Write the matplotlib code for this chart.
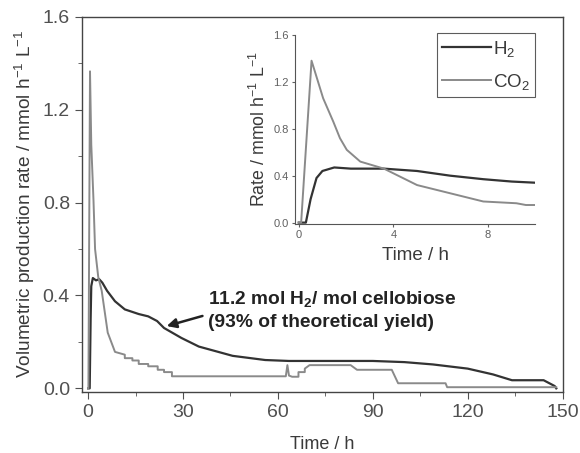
import matplotlib
matplotlib.use('Agg')
import matplotlib.pyplot as plt
from matplotlib.ticker import MultipleLocator, FormatStrFormatter

plt.rcParams['font.family'] = ['Liberation Sans', 'DejaVu Sans']
plt.rcParams['mathtext.fontset'] = 'custom'
plt.rcParams['mathtext.rm'] = 'Liberation Sans'
plt.rcParams['mathtext.it'] = 'Liberation Sans:italic'
plt.rcParams['mathtext.bf'] = 'Liberation Sans:bold'

# main run, time in h
t_h2 = [0, 0.5, 0.8, 1.0, 1.5, 2.5, 3.5, 4.5, 6, 8.5, 11.6, 16, 19, 21.8, 24, 29.5,
        35, 45.7, 56, 63.5, 75, 90, 100, 109, 120, 128, 134, 144, 147.5, 148]
h2 = [0, 0.0, 0.3, 0.44, 0.475, 0.465, 0.47, 0.455, 0.42, 0.375, 0.34, 0.32, 0.31,
      0.29, 0.26, 0.217, 0.18, 0.14, 0.122, 0.118, 0.118, 0.118, 0.113, 0.103, 0.085,
      0.06, 0.035, 0.035, 0.01, 0.0]

t_co2 = [0, 0.1, 0.6, 1.0, 1.7, 2.2, 3.2, 4.3, 6.2, 8.5, 11.6, 11.6, 14, 14, 16, 16,
         19, 19, 22, 22, 24, 24, 26.5, 26.5, 62.5, 63, 63.5, 64.5, 66.5, 66.5, 68.5,
         68.5, 70, 83, 85, 96, 98, 113, 113.5, 148]
co2 = [0, 0.0, 1.365, 1.05, 0.81, 0.6, 0.48, 0.42, 0.24, 0.157, 0.145, 0.13, 0.13,
       0.12, 0.12, 0.105, 0.105, 0.095, 0.095, 0.08, 0.08, 0.07, 0.07, 0.052, 0.052,
       0.1, 0.055, 0.05, 0.05, 0.07, 0.07, 0.085, 0.1, 0.1, 0.08, 0.08, 0.022, 0.022,
       0.005, 0.005]

# inset, first 10 h
ti_h2 = [0, 0.3, 0.5, 0.75, 1.0, 1.5, 2.2, 3.6, 5.0, 6.4, 7.8, 9.0, 10]
hi_h2 = [0, 0.0, 0.2, 0.38, 0.44, 0.47, 0.46, 0.46, 0.44, 0.4, 0.37, 0.35, 0.34]
ti_co2 = [0, 0.1, 0.54, 1.03, 1.46, 1.74, 2.03, 2.6, 3.6, 4.3, 5.0, 6.4, 7.8, 9.2, 9.6, 10]
hi_co2 = [0, 0.0, 1.38, 1.06, 0.86, 0.72, 0.62, 0.52, 0.46, 0.39, 0.32, 0.25, 0.18,
          0.165, 0.15, 0.15]

dark = '#333333'
light = '#8a8a8a'
txt = '#3a3a3a'

fig = plt.figure(figsize=(5.8, 4.53), dpi=100)
ax = fig.add_axes([0.141, 0.135, 0.829, 0.828])
ax.plot(t_h2, h2, color=dark, lw=1.6)
ax.plot(t_co2, co2, color=light, lw=1.4)
ax.set_xlim(-2, 150)
ax.set_ylim(-0.015, 1.6)
ax.xaxis.set_major_locator(MultipleLocator(30))
ax.xaxis.set_minor_locator(MultipleLocator(15))
ax.yaxis.set_major_locator(MultipleLocator(0.4))
ax.yaxis.set_minor_locator(MultipleLocator(0.2))
ax.yaxis.set_major_formatter(FormatStrFormatter('%.1f'))
ax.tick_params(which='both', direction='out', colors='#505050', labelsize=14, top=False, right=False)
ax.tick_params(which='major', length=5)
ax.tick_params(which='minor', length=3)
for s in ax.spines.values():
    s.set_color('#444444')
    s.set_linewidth(1.0)
ax.set_xlabel('Time / h', fontsize=13, color=txt, labelpad=11)
ax.set_ylabel('Volumetric production rate / mmol h$^{-1}$ L$^{-1}$', fontsize=13.7, color=txt,
              labelpad=4)

ax.annotate('', xy=(24, 0.265), xytext=(37, 0.315),
            arrowprops=dict(arrowstyle='-|>', color='#222222', lw=1.8, mutation_scale=14))
ax.text(38, 0.337, '11.2 mol H$_\\mathbf{2}$/ mol cellobiose\n(93% of theoretical yield)',
        fontsize=13.8, fontweight='bold', color='#222222', va='center', linespacing=1.4)

ins = fig.add_axes([0.509, 0.506, 0.414, 0.417])
ins.plot(ti_h2, hi_h2, color=dark, lw=1.6, label='H$_2$')
ins.plot(ti_co2, hi_co2, color=light, lw=1.4, label='CO$_2$')
ins.set_xlim(-0.15, 10)
ins.set_ylim(-0.01, 1.6)
ins.xaxis.set_major_locator(MultipleLocator(4))
ins.yaxis.set_major_locator(MultipleLocator(0.4))
ins.yaxis.set_major_formatter(FormatStrFormatter('%.1f'))
ins.spines['top'].set_visible(False)
ins.spines['right'].set_visible(False)
for s in ('left', 'bottom'):
    ins.spines[s].set_color('#555555')
    ins.spines[s].set_linewidth(0.8)
ins.patch.set_alpha(0)
ins.tick_params(direction='out', length=2.5, width=0.8, colors='#606060', labelsize=8, pad=2)
ins.set_xlabel('Time / h', fontsize=13.5, color=txt, labelpad=5)
ins.set_ylabel('Rate / mmol h$^{-1}$ L$^{-1}$', fontsize=12.8, color=txt, labelpad=3)
leg = ins.legend(loc='upper right', bbox_to_anchor=(1.0, 1.01), fontsize=13.5, frameon=True,
                 fancybox=False, edgecolor='#333333', handlelength=2.6, handletextpad=0.1,
                 borderpad=0.3, labelspacing=0.7, borderaxespad=0)
leg.get_frame().set_linewidth(0.8)
for t in leg.get_texts():
    t.set_color(txt)

fig.savefig('out.png', dpi=100)
